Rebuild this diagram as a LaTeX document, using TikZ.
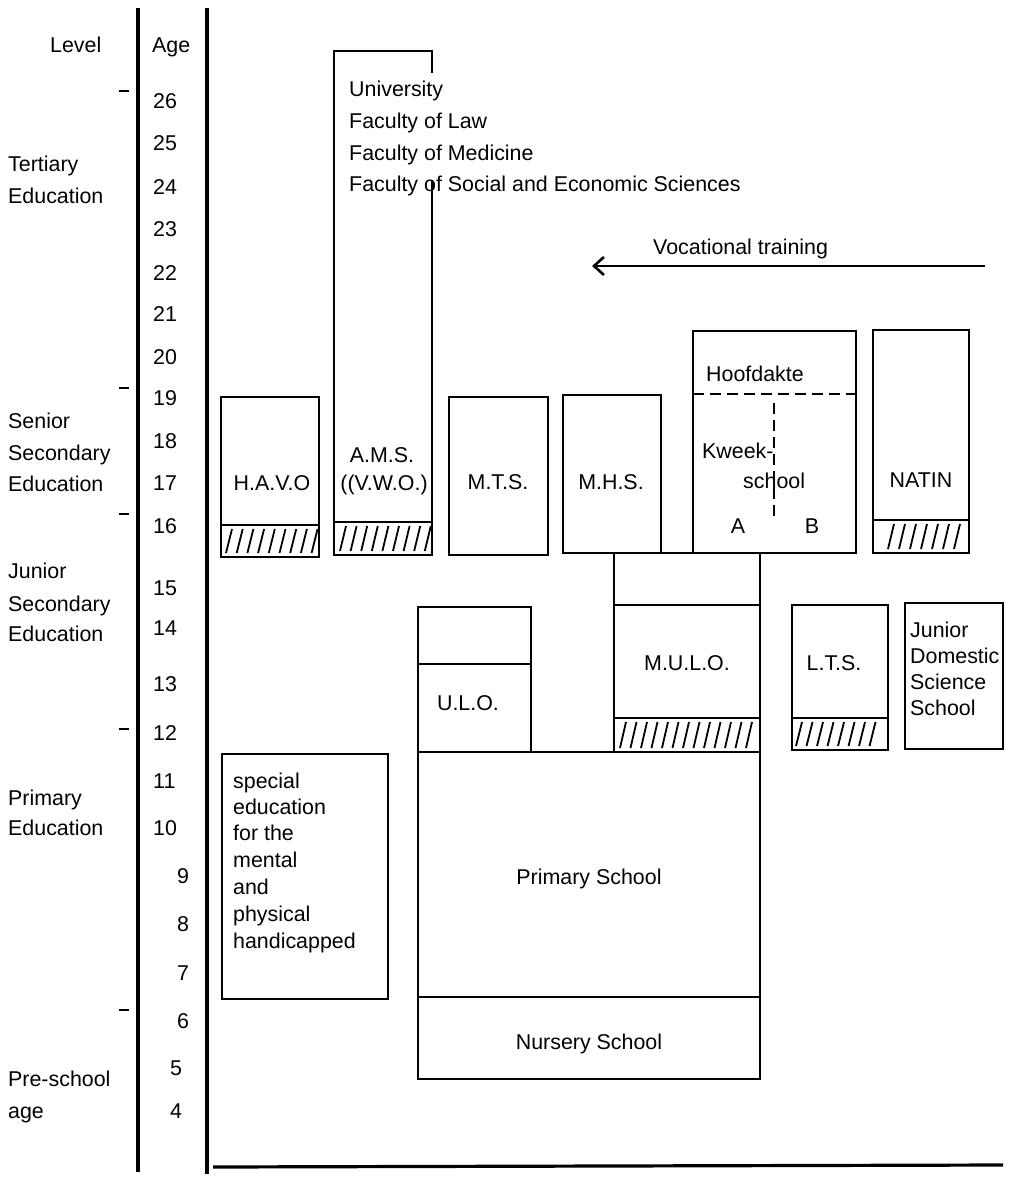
\documentclass[tikz,border=0pt]{standalone}
\usepackage{fontspec}
\setmainfont{Liberation Sans}
\usetikzlibrary{arrows.meta}
\tikzset{
  box/.style={line width=2.8pt, line cap=rect},
  axis/.style={line width=3.2pt},
  hatchline/.style={line width=1.8pt},
  dashline/.style={line width=2.8pt, dash pattern=on 11pt off 6pt},
  lbl/.style={inner sep=0pt, anchor=base west, font=\fontsize{21.4}{25}\selectfont},
  clbl/.style={inner sep=0pt, anchor=base, font=\fontsize{21.4}{25}\selectfont},
}
\newcommand\myhatch[5]{%
  \foreach \hx in {#1,#3,...,#2} {\draw[hatchline] (\hx,#5-4) -- (\hx+6,#4+4);}%
}
\begin{document}
\begin{tikzpicture}[x=1pt,y=-1pt]
\useasboundingbox (0,0) rectangle (1015,1178);
\fill[white] (0,0) rectangle (1015,1178);
% axes
\draw[axis] (138,8) -- (138,1172);
\draw[axis] (207,8) -- (207,1174);
\draw[axis] (213,1167) -- (1003,1165);
% ticks
\foreach \ty in {91,388,514,729,1010} {\draw[line width=1.8pt] (119,\ty) -- (129,\ty);}
% level labels
\node[lbl] (lvl) at (50,52) {Level};
\node[lbl] (age) at (152,52) {Age};
\node[lbl] (ter1) at (8,171) {Tertiary};
\node[lbl] (ter2) at (8,203) {Education};
\node[lbl] (sen1) at (8,428) {Senior};
\node[lbl] (sen2) at (8,460) {Secondary};
\node[lbl] (sen3) at (8,491) {Education};
\node[lbl] (jun1) at (8,578) {Junior};
\node[lbl] (jun2) at (8,611) {Secondary};
\node[lbl] (jun3) at (8,641) {Education};
\node[lbl] (pri1) at (8,805) {Primary};
\node[lbl] (pri2) at (8,835) {Education};
\node[lbl] (pre1) at (8,1086) {Pre-school};
\node[lbl] (pre2) at (8,1118) {age};
% ages
\foreach \a/\ay in {26/108,25/150,24/194,23/236,22/280,21/321,20/364,19/405,18/448,17/490,16/533,15/595,14/635,13/691,12/740,11/788,10/835} {
  \node[lbl] (a\a) at (153,\ay) {\a};
}
\foreach \a/\ay/\ax in {9/883/177,8/931/177,7/980/177,6/1028/177,5/1075/170,4/1118/170} {
  \node[lbl] (a\a) at (\ax,\ay) {\a};
}
% University / AMS
\draw[box] (432,72) -- (432,51) -- (334,51) -- (334,555) -- (432,555) -- (432,182);
\draw[box] (334,522) -- (432,522);
\myhatch{340}{425}{350.6}{522}{555}
\node[lbl] (uni) at (349,96) {University};
\node[lbl] (law) at (349,128) {Faculty of Law};
\node[lbl] (med) at (349,160) {Faculty of Medicine};
\node[lbl] (soc) at (349,191) {Faculty of Social and Economic Sciences};
\node[clbl] (ams1) at (382,462) {A.M.S.};
\node[clbl] (ams2) at (384,490) {((V.W.O.)};
% Vocational training arrow
\node[lbl] (voc) at (653,254) {Vocational training};
\coordinate (arrS) at (985,266);
\coordinate (arrE) at (592,266);
\draw[line width=2.4pt, -{Straight Barb[length=10pt,width=18pt,line width=2.6pt]}] (arrS) -- (arrE);
% HAVO
\draw[box] (221,397) rectangle (319,557);
\draw[box] (221,525) -- (319,525);
\myhatch{226}{312}{236.7}{525}{557}
\node[clbl] (havo) at (272,490) {H.A.V.O};
% MTS
\draw[box] (449,397) rectangle (548,555);
\node[clbl] (mts) at (498,489) {M.T.S.};
% MHS
\draw[box] (563,395) rectangle (661,553);
\node[clbl] (mhs) at (611,489) {M.H.S.};
% Kweekschool
\draw[box] (693,331) rectangle (856,553);
\draw[box] (563,553) -- (856,553);
\draw[dashline] (693,394) -- (856,394);
\draw[dashline] (774,403) -- (774,520);
\node[lbl] (hoof) at (706,381) {Hoofdakte};
\node[lbl] (kw1) at (702,458) {Kweek-};
\node[lbl] (kw2) at (743,488) {school};
\node[clbl] (kA) at (738,533) {A};
\node[clbl] (kB) at (812,533) {B};
% NATIN
\draw[box] (873,330) rectangle (969,553);
\draw[box] (873,520) -- (969,520);
\myhatch{888}{955}{899}{520}{553}
\node[clbl] (natin) at (921,487) {NATIN};
% MULO
\draw[box] (614,553) -- (614,752);
\draw[box] (760,553) -- (760,752);
\draw[box] (614,605) -- (760,605);
\draw[box] (614,718) -- (760,718);
\myhatch{620}{750}{630.5}{718}{752}
\node[clbl] (mulo) at (687,670) {M.U.L.O.};
% ULO
\draw[box] (418,607) rectangle (531,752);
\draw[box] (418,664) -- (531,664);
\node[clbl] (ulo) at (468,710) {U.L.O.};
% LTS
\draw[box] (792,605) rectangle (888,750);
\draw[box] (792,718) -- (888,718);
\myhatch{796}{878}{806.5}{718}{750}
\node[clbl] (lts) at (834,670) {L.T.S.};
% Junior Domestic Science School
\draw[box] (905,603) rectangle (1003,749);
\node[lbl] (jd1) at (910,637) {Junior};
\node[lbl] (jd2) at (910,663) {Domestic};
\node[lbl] (jd3) at (910,689) {Science};
\node[lbl] (jd4) at (910,715) {School};
% Primary and Nursery
\draw[box] (418,752) rectangle (760,1079);
\draw[box] (418,997) -- (760,997);
\node[clbl] (prim) at (589,884) {Primary School};
\node[clbl] (nurs) at (589,1049) {Nursery School};
% Special education
\draw[box] (222,754) rectangle (388,999);
\node[lbl] (sp1) at (233,788) {special};
\node[lbl] (sp2) at (233,814) {education};
\node[lbl] (sp3) at (233,840) {for the};
\node[lbl] (sp4) at (233,867) {mental};
\node[lbl] (sp5) at (233,894) {and};
\node[lbl] (sp6) at (233,921) {physical};
\node[lbl] (sp7) at (233,948) {handicapped};
\end{tikzpicture}
\end{document}
